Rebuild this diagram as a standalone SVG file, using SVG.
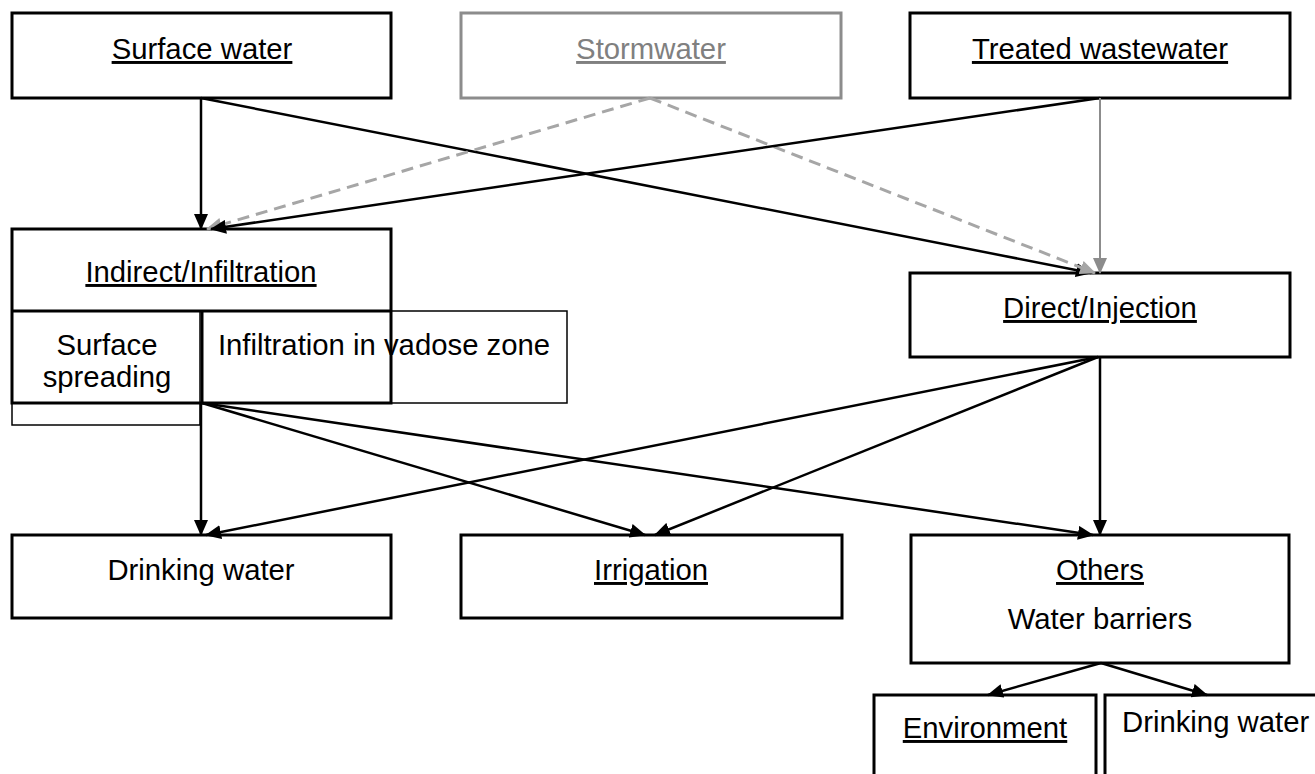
<svg xmlns="http://www.w3.org/2000/svg" width="1315" height="774" viewBox="0 0 1315 774">
<style>
  text { font-family: "Liberation Sans", Arial, sans-serif; font-size: 29.3px; fill: #000; }
  .u { text-decoration: underline; }
  .box { fill: #fff; stroke: #000; stroke-width: 3; }
  .thin { fill: #fff; stroke: #000; stroke-width: 1.5; }
  .gbox { fill: #fff; stroke: #8c8c8c; stroke-width: 3; }
  .gtext { fill: #808080; }
  .c { fill: none; stroke: #000; stroke-width: 2.5; }
  .cg { fill: none; stroke: #8c8c8c; stroke-width: 2; }
  .cd { fill: none; stroke: #a6a6a6; stroke-width: 3; stroke-dasharray: 12 7; }
</style>
<defs>
  <marker id="ab" markerUnits="userSpaceOnUse" markerWidth="16" markerHeight="14" refX="15" refY="7" orient="auto">
    <path d="M0,0 L16,7 L0,14 z" fill="#000"/>
  </marker>
  <marker id="ag" markerUnits="userSpaceOnUse" markerWidth="16" markerHeight="14" refX="15" refY="7" orient="auto">
    <path d="M0,0 L16,7 L0,14 z" fill="#8c8c8c"/>
  </marker>
  <marker id="al" markerUnits="userSpaceOnUse" markerWidth="16" markerHeight="14" refX="15" refY="7" orient="auto">
    <path d="M0,0 L16,7 L0,14 z" fill="#a6a6a6"/>
  </marker>
</defs>
<rect width="1315" height="774" fill="#fff"/>

<g id="surface-water">
  <rect class="box" x="12" y="13" width="379" height="85"/>
  <text class="u" x="202" y="59" text-anchor="middle">Surface water</text>
</g>
<g id="stormwater">
  <rect class="gbox" x="461" y="13" width="380" height="85"/>
  <text class="u gtext" x="651" y="59" text-anchor="middle">Stormwater</text>
</g>
<g id="treated-wastewater">
  <rect class="box" x="910" y="13" width="380" height="85"/>
  <text class="u" x="1100" y="59" text-anchor="middle">Treated wastewater</text>
</g>

<g id="indirect-infiltration">
  <rect class="thin" x="12" y="311" width="188" height="114"/>
  <rect class="thin" x="202" y="311" width="365" height="92"/>
  <text x="107" y="355" text-anchor="middle">Surface</text>
  <text x="107" y="387" text-anchor="middle">spreading</text>
  <text x="384" y="355" text-anchor="middle">Infiltration in vadose zone</text>
  <rect x="12" y="229" width="379" height="174" fill="none" stroke="#000" stroke-width="3"/>
  <line x1="12" y1="311" x2="391" y2="311" stroke="#000" stroke-width="3"/>
  <line x1="202" y1="311" x2="202" y2="403" stroke="#000" stroke-width="3"/>
  <text class="u" x="201" y="282" text-anchor="middle">Indirect/Infiltration</text>
</g>

<g id="direct-injection">
  <rect class="box" x="910" y="273" width="380" height="84"/>
  <text class="u" x="1100" y="318" text-anchor="middle">Direct/Injection</text>
</g>

<g id="drinking-water">
  <rect class="box" x="12" y="535" width="379" height="83"/>
  <text x="201" y="580" text-anchor="middle">Drinking water</text>
</g>
<g id="irrigation">
  <rect class="box" x="461" y="535" width="381" height="83"/>
  <text class="u" x="651" y="580" text-anchor="middle">Irrigation</text>
</g>
<g id="others">
  <rect class="box" x="911" y="535" width="378" height="128"/>
  <text class="u" x="1100" y="580" text-anchor="middle">Others</text>
  <text x="1100" y="629" text-anchor="middle">Water barriers</text>
</g>
<g id="environment">
  <rect class="box" x="874" y="695" width="222" height="90"/>
  <text class="u" x="985" y="738" text-anchor="middle">Environment</text>
</g>
<g id="drinking-water-2">
  <rect class="box" x="1105" y="695" width="230" height="90"/>
  <text x="1122" y="732">Drinking water</text>
</g>

<g id="connectors">
  <line class="c" x1="201" y1="98" x2="201" y2="229" marker-end="url(#ab)"/>
  <line class="c" x1="201" y1="98" x2="1091" y2="273" marker-end="url(#ab)"/>
  <line class="cd" x1="650" y1="98" x2="207" y2="229" marker-end="url(#al)"/>
  <line class="cd" x1="650" y1="98" x2="1095" y2="273" marker-end="url(#al)"/>
  <line class="c" x1="1100" y1="98" x2="211" y2="229" marker-end="url(#ab)"/>
  <line class="cg" x1="1100" y1="98" x2="1100" y2="273" marker-end="url(#ag)"/>
  <line class="c" x1="201" y1="403" x2="201" y2="535" marker-end="url(#ab)"/>
  <line class="c" x1="202" y1="403" x2="645" y2="535" marker-end="url(#ab)"/>
  <line class="c" x1="202" y1="403" x2="1093" y2="535" marker-end="url(#ab)"/>
  <line class="c" x1="1098" y1="357" x2="206" y2="535" marker-end="url(#ab)"/>
  <line class="c" x1="1098" y1="357" x2="655" y2="535" marker-end="url(#ab)"/>
  <line class="c" x1="1100" y1="357" x2="1100" y2="535" marker-end="url(#ab)"/>
  <line class="c" x1="1101" y1="663" x2="988" y2="695" marker-end="url(#ab)"/>
  <line class="c" x1="1101" y1="663" x2="1207" y2="695" marker-end="url(#ab)"/>
</g>
</svg>
